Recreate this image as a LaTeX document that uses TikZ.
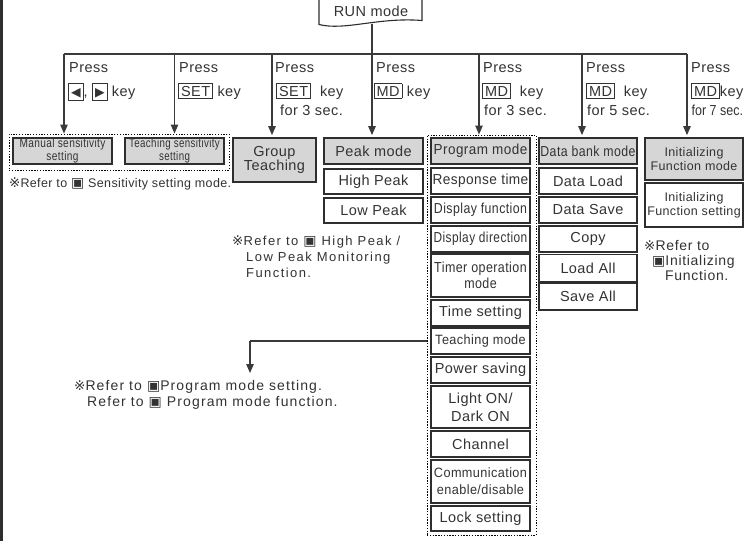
\documentclass[tikz,border=0pt]{standalone}
\usepackage{fontspec}
\usepackage{graphicx}
\setmainfont{Liberation Sans}[LetterSpace=3]
\newfontfamily\symf{DejaVu Sans}
\usetikzlibrary{arrows.meta}
\definecolor{txt}{HTML}{333333}
\definecolor{edge}{HTML}{2E2E2E}
\definecolor{linec}{HTML}{3A3A3A}
\definecolor{fillg}{HTML}{D6D6D6}
\newcommand\mf{\fontsize{14.5}{16}\selectfont}
\newcommand\rmark{{\symf\fontsize{13.5}{13}\selectfont ※}}
\newcommand\sqm{{\symf\fontsize{14}{13}\selectfont ▣}}
\newcommand\keyb[1]{{\setlength\fboxsep{2pt}\setlength\fboxrule{0.9pt}\fbox{#1}}}
\newcommand\tri[1]{{\vphantom{S}\symf\fontsize{12.5}{12}\selectfont #1}}
\newcommand\cnd[1]{\addfontfeatures{FakeStretch=#1}}
\newcommand\lsp[1]{\addfontfeatures{LetterSpace=#1}}
\begin{document}
\begin{tikzpicture}[x=1pt,y=-1pt,
  box/.style={draw=edge,line width=1.8pt,fill=white,minimum width=99pt,minimum height=26pt,inner sep=0pt,align=center,text=txt,font=\mf},
  gbox/.style={box,fill=fillg},
  dotf/.style={draw=black,line width=1pt,dash pattern=on 1.3pt off 1.5pt,inner sep=0pt,fill=none},
  conn/.style={draw=linec,line width=1.1pt},
  arr/.style={conn,-{Triangle[length=9pt,width=7.5pt]}},
  lbl/.style={anchor=base west,inner sep=0pt,text=txt,font=\mf},
  note/.style={anchor=north west,inner sep=0pt,align=left,text=txt}]
\useasboundingbox (0,0) rectangle (747,541);
\fill[white] (0,0) rectangle (747,541);
% page edge
\draw[line width=2.6pt,edge] (1.3,0) -- (1.3,541);

% RUN mode document shape
\draw[edge,line width=1.1pt,fill=white] (319,-2) -- (319,24.5) .. controls (345,31) and (378,17) .. (422,20.5) -- (422,-2);
\node[inner sep=0pt,text=txt,font=\mf] (run) at (371,11) {RUN mode};
\coordinate (runb) at (372,23.5);

% bus
\coordinate (b1) at (64,54);
\coordinate (b2) at (174.5,54);
\coordinate (b3) at (272,54);
\coordinate (b4) at (372,54);
\coordinate (b5) at (479,54);
\coordinate (b6) at (582,54);
\coordinate (b7) at (687,54);
\draw[conn] (runb) -- (b4);
\draw[conn] (b1) -- (b7);

% dotted frames
\node[dotf,minimum width=220pt,minimum height=36pt] (sens) at (119,152) {};
\node[dotf,minimum width=109pt,minimum height=400pt] (progf) at (481.5,335) {};

% boxes: sensitivity
\node[gbox,font=\fontsize{12.5}{10.5}\selectfont\cnd{0.81}] (manual) at (62.5,151) {Manual sensitivity\\setting};
\node[gbox,font=\fontsize{12.5}{10.5}\selectfont\cnd{0.78}] (teachs) at (174.5,151) {Teaching sensitivity\\setting};
% group teaching
\node[gbox,minimum width=83pt,minimum height=44pt,font=\fontsize{14.5}{14.5}\selectfont] (group) at (274.5,160) {Group\\Teaching};
% peak
\node[gbox] (peak) at (373.5,151) {Peak mode};
\node[box,minimum height=25pt] (high) at (373.5,181.5) {High Peak};
\node[box,minimum height=25pt] (low) at (373.5,210.5) {Low Peak};
% program column
\node[gbox,font=\mf\cnd{0.93}] (prog) at (480.5,151) {Program mode};
\node[box,font=\mf\cnd{0.94}] (resp) at (480.5,181) {Response time};
\node[box,font=\mf\cnd{0.85}] (dfun) at (480.5,210) {Display function};
\node[box,font=\mf\cnd{0.82}] (ddir) at (480.5,239) {Display direction};
\node[box,minimum height=43pt,font=\fontsize{14.5}{16.5}\selectfont\cnd{0.86}] (timer) at (480.5,275.5) {Timer operation\\mode};
\node[box] (tset) at (480.5,313) {Time setting};
\node[box,font=\fontsize{13.5}{16}\selectfont\cnd{0.94}] (teach) at (480.5,341) {Teaching mode};
\node[box] (power) at (480.5,370) {Power saving};
\node[box,minimum height=42pt,font=\fontsize{14.5}{18}\selectfont] (light) at (480.5,407) {Light ON/\\Dark ON};
\node[box] (chan) at (480.5,444) {Channel};
\node[box,minimum height=43pt,font=\fontsize{13.5}{17}\selectfont\cnd{0.94}] (comm) at (480.5,481.5) {Communication\\enable/disable};
\node[box,minimum height=25pt] (lock) at (480.5,518.5) {Lock setting};
% data bank column
\node[gbox,minimum width=98pt,font=\mf\cnd{0.85}] (bank) at (588,151) {Data bank mode};
\node[box,minimum width=98pt] (dload) at (588,181) {Data Load};
\node[box,minimum width=98pt] (dsave) at (588,210) {Data Save};
\node[box,minimum width=98pt] (copy) at (588,239) {Copy};
\node[box,minimum width=98pt,minimum height=27pt] (lall) at (588,268) {Load All};
\node[box,minimum width=98pt,minimum height=27pt] (sall) at (588,296.5) {Save All};
% initializing column
\node[gbox,minimum width=98pt,minimum height=42pt,font=\fontsize{12.5}{13.5}\selectfont] (init) at (694,159) {Initializing\\Function mode};
\node[box,minimum width=98pt,minimum height=44pt,font=\fontsize{12.5}{14}\selectfont] (initset) at (694,205) {Initializing\\Function setting};

% arrows
\draw[arr] (b1) -- (b1 |- sens.north);
\draw[arr] (b2) -- (b2 |- sens.north);
\draw[arr,shorten >=2pt] (b3) -- (b3 |- group.north);
\draw[arr,shorten >=2pt] (b4) -- (b4 |- peak.north);
\draw[arr] (b5) -- (b5 |- progf.north);
\draw[arr,shorten >=2pt] (b6) -- (b6 |- bank.north);
\draw[arr,shorten >=2pt] (b7) -- (b7 |- init.north);

% key labels
\node[lbl] (p1) at (69,72) {Press};
\node[lbl] (k1) at (68,96) {\keyb{\tri{◀}}, \keyb{\tri{▶}} key};
\node[lbl] (p2) at (179,72) {Press};
\node[lbl] (k2) at (178,96) {\keyb{SET} key};
\node[lbl] (p3) at (275,72) {Press};
\node[lbl] (k3) at (276,96) {\keyb{SET}\ \ key};
\node[lbl] (s3) at (280,115) {for 3 sec.};
\node[lbl] (p4) at (376,72) {Press};
\node[lbl] (k4) at (373.5,96) {\keyb{MD} key};
\node[lbl] (p5) at (483,72) {Press};
\node[lbl] (k5) at (482,96) {\keyb{MD}\ \ key};
\node[lbl] (s5) at (484,115) {for 3 sec.};
\node[lbl] (p6) at (586,72) {Press};
\node[lbl] (k6) at (586,96) {\keyb{MD}\ \ key};
\node[lbl] (s6) at (587,115) {for 5 sec.};
\node[lbl] (p7) at (691,72) {Press};
\node[lbl] (k7) at (691,96) {\keyb{MD}key};
\node[lbl,font=\mf\cnd{0.86}\lsp{0}] (s7) at (691.5,115) {for 7 sec.};

% notes
\node[note,font=\fontsize{12.5}{16}\selectfont] (nsens) at (9,177.8) {\rmark Refer to \sqm{} Sensitivity setting mode.};
\node[note,font=\fontsize{13}{16}\selectfont\lsp{11}] (npeak) at (232,235.5) {\rmark Refer to \sqm{} High Peak /\\\hspace*{14pt}Low Peak Monitoring\\\hspace*{14pt}Function.};
\node[note,font=\fontsize{14}{15.2}\selectfont\lsp{5}] (ninit) at (644,239.8) {\rmark Refer to\\\hspace*{8pt}\sqm Initializing\\\hspace*{21pt}Function.};
\node[note,font=\fontsize{14}{16}\selectfont\lsp{8}] (nprog) at (74,379.8) {\rmark Refer to \sqm Program mode setting.\\\hspace*{13pt}Refer to \sqm{} Program mode function.};

% teaching mode connector
\coordinate (tcorner) at (250,341);
\coordinate (tend) at (250,373);
\draw[conn] (progf.west |- teach) -- (tcorner);
\draw[arr] (tcorner) -- (tend);
\end{tikzpicture}
\end{document}
